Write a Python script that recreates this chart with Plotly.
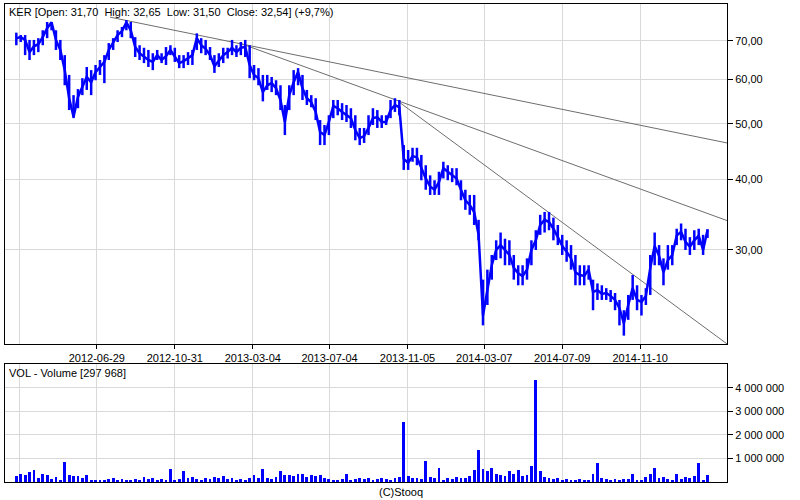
import pandas as pd
import plotly.graph_objects as go

# Weekly closing prices (PLN)
close = [
    70.8, 71.1, 70.3, 66.9, 68.5, 69.1, 71.1, 73.7, 75.5, 70.3,
    67.5, 62.2, 55.5, 51.5, 55.8, 58.3, 60.5, 59.2, 61.7, 63.0,
    64.3, 67.5, 69.7, 71.7, 72.8, 75.5, 73.1, 68.3, 66.6, 65.6,
    64.8, 64.3, 66.1, 64.8, 65.8, 67.5, 65.8, 64.0, 64.5, 65.2,
    66.1, 70.8, 68.8, 67.8, 66.1, 63.2, 64.8, 66.1, 66.9, 68.1,
    66.9, 68.1, 68.3, 63.5, 61.0, 60.2, 56.9, 58.5, 59.0, 57.8,
    55.1, 50.4, 56.2, 59.2, 61.7, 57.8, 55.5, 54.6, 52.5, 48.4,
    47.8, 50.4, 53.8, 53.3, 52.5, 51.8, 51.2, 48.8, 47.2, 47.6,
    49.2, 51.2, 51.4, 50.4, 50.4, 52.9, 54.0, 53.5, 43.4, 42.7,
    43.9, 43.7, 41.8, 40.1, 38.8, 38.3, 39.5, 41.8, 41.2, 40.6,
    40.1, 38.3, 36.7, 36.0, 35.0, 31.9, 23.0, 25.5, 28.2, 30.0,
    30.6, 30.0, 29.4, 27.9, 27.3, 27.0, 27.7, 30.0, 31.2, 33.2,
    33.9, 33.6, 32.7, 31.6, 30.5, 29.8, 29.0, 27.4, 27.1, 27.0,
    27.7, 25.3, 25.5, 25.1, 25.2, 24.9, 24.5, 23.7, 22.3, 24.0,
    25.7, 24.5, 24.3, 24.9, 27.9, 30.5, 29.3, 27.4, 28.8, 29.4,
    31.8, 32.3, 31.0, 30.4, 31.2, 31.8, 30.0, 32.54,
]

# Weekly highs (PLN)
high = [
    72.4, 71.7, 71.7, 70.3, 70.3, 70.8, 73.1, 75.6, 75.6, 73.1,
    70.3, 66.1, 61.0, 56.2, 57.6, 60.2, 63.0, 62.2, 63.5, 64.8,
    66.1, 69.4, 70.8, 73.1, 74.1, 76.2, 75.6, 71.1, 68.8, 68.1,
    67.5, 66.6, 67.5, 66.6, 68.3, 68.8, 68.1, 66.1, 66.1, 66.9,
    67.5, 72.2, 70.8, 70.3, 68.3, 66.1, 66.6, 68.1, 68.1, 70.3,
    68.8, 69.7, 70.3, 68.8, 63.5, 62.7, 61.0, 61.0, 60.5, 59.7,
    58.5, 54.0, 58.5, 62.2, 62.7, 61.0, 57.4, 56.2, 55.5, 50.8,
    49.8, 51.8, 55.1, 55.1, 54.4, 54.0, 53.3, 51.8, 49.2, 49.2,
    51.8, 53.3, 52.9, 51.8, 51.8, 55.1, 55.5, 55.1, 45.9, 45.0,
    45.4, 45.4, 44.1, 42.3, 40.6, 39.8, 41.2, 42.9, 42.3, 41.8,
    41.8, 39.8, 38.3, 37.5, 37.5, 33.9, 26.6, 27.7, 29.4, 31.2,
    32.2, 31.4, 31.2, 29.4, 28.2, 28.2, 29.0, 31.2, 32.5, 34.6,
    35.0, 35.0, 34.2, 33.2, 31.9, 31.2, 30.6, 29.4, 28.2, 28.2,
    28.2, 26.6, 26.2, 26.0, 25.7, 25.5, 25.2, 24.5, 23.5, 25.0,
    27.1, 26.0, 25.0, 25.7, 29.4, 32.2, 30.6, 29.0, 30.6, 30.6,
    32.7, 33.4, 32.7, 31.6, 32.5, 32.7, 31.9, 32.65,
]

# Weekly lows (PLN)
low = [
    68.8, 69.7, 66.1, 64.8, 66.1, 66.9, 68.8, 70.8, 73.1, 67.5,
    64.8, 58.5, 52.9, 51.2, 53.3, 56.2, 57.4, 56.2, 59.7, 61.0,
    59.0, 64.8, 67.5, 69.7, 71.1, 73.1, 70.8, 65.6, 64.8, 64.0,
    63.0, 62.2, 64.8, 64.0, 63.5, 66.1, 64.3, 62.7, 62.7, 63.5,
    63.5, 67.5, 66.6, 66.1, 64.8, 61.5, 63.0, 64.0, 65.2, 66.1,
    65.6, 66.1, 65.6, 60.2, 59.7, 58.5, 54.8, 57.4, 56.9, 56.2,
    52.9, 47.8, 52.9, 56.2, 58.5, 55.1, 54.0, 53.5, 50.8, 45.9,
    45.9, 47.8, 51.2, 51.8, 50.8, 50.4, 49.2, 46.8, 45.9, 46.3,
    47.8, 49.8, 49.2, 49.2, 49.8, 51.2, 52.5, 51.8, 41.5, 41.5,
    42.9, 42.3, 39.8, 38.3, 37.5, 37.5, 37.5, 40.1, 39.8, 39.5,
    39.0, 36.7, 35.3, 34.6, 33.2, 31.2, 22.1, 24.0, 26.6, 28.8,
    29.0, 28.2, 28.2, 26.6, 26.0, 26.0, 26.6, 28.2, 30.0, 31.9,
    32.2, 32.5, 31.2, 30.6, 29.4, 28.6, 27.7, 26.0, 26.0, 26.0,
    26.6, 23.5, 24.5, 24.5, 24.5, 24.3, 23.5, 22.1, 21.2, 22.6,
    24.5, 23.5, 23.0, 24.0, 25.0, 28.2, 28.2, 26.0, 27.7, 28.2,
    30.6, 31.2, 30.0, 29.4, 30.0, 30.6, 29.4, 31.5,
]

# Weekly volume (thousands of shares)
volume_k = [
    250, 350, 300, 420, 500, 150, 340, 300, 120, 200,
    100, 830, 300, 250, 260, 150, 280, 100, 80, 90,
    60, 120, 150, 90, 130, 80, 70, 120, 90, 200,
    130, 150, 90, 120, 80, 560, 80, 110, 480, 150,
    200, 120, 80, 150, 110, 220, 150, 260, 120, 160,
    100, 120, 90, 180, 300, 150, 560, 150, 130, 220,
    470, 280, 300, 250, 330, 350, 200, 280, 250, 300,
    150, 120, 100, 80, 120, 330, 90, 130, 150, 120,
    160, 100, 140, 180, 120, 90, 150, 200, 2550, 250,
    180, 150, 130, 900, 200, 180, 600, 100, 150, 120,
    200, 160, 150, 250, 500, 1350, 550, 450, 600, 350,
    300, 250, 450, 350, 500, 250, 300, 700, 4350, 450,
    200, 150, 120, 160, 100, 140, 100, 90, 120, 80,
    100, 350, 800, 150, 120, 100, 130, 90, 120, 140,
    350, 100, 90, 200, 350, 600, 150, 200, 120, 100,
    350, 120, 200, 150, 250, 800, 100, 300,
]

start_date = "2012-02-22"
price_dates = pd.date_range(start_date, periods=len(close), freq="7D")
vol_dates = pd.date_range(start_date, periods=len(volume_k), freq="7D")
volume = [v * 1000 for v in volume_k]
err_up = [h - c for h, c in zip(high, close)]
err_dn = [c - l for c, l in zip(close, low)]

# Trend lines: (start date, start price, end date, end price)
trend_lines = [
    ("2012-07-20", 77.1, "2015-03-28", 46.3),
    ("2013-02-11", 69.4, "2015-03-28", 33.8),
    ("2013-10-24", 54.5, "2015-03-28", 20.5),
]

unlabeled_grid_dates = ["2012-02-27"]
date_ticks = ["2012-06-29", "2012-10-31", "2013-03-04", "2013-07-04",
              "2013-11-05", "2014-03-07", "2014-07-09", "2014-11-10"]
date_labels = ["2012-06-29", "2012-10-31", "2013-03-04", "2013-07-04",
               "2013-11-05", "2014-03-07", "2014-07-09", "2014-11-10"]
price_ticks = [30, 40, 50, 60, 70]
price_labels = ["30,00", "40,00", "50,00", "60,00", "70,00"]
vol_ticks = [1_000_000, 2_000_000, 3_000_000, 4_000_000]
vol_labels = ["1 000 000", "2 000 000", "3 000 000", "4 000 000"]

title_text = "KER [Open: 31,70 \u00a0High: 32,65 \u00a0Low: 31,50 \u00a0Close: 32,54] (+9,7%)"
vol_text = "VOL - Volume [297 968]"

FONT = "Liberation Sans, Arial, sans-serif"
GRID = "#d9d9d9"
BLUE = "#0000ff"

fig = go.Figure()

for (d0, p0, d1, p1) in trend_lines:
    fig.add_trace(go.Scatter(x=[d0, d1], y=[p0, p1], mode="lines",
                             line=dict(color="#6e6e6e", width=1),
                             xaxis="x", yaxis="y", hoverinfo="skip"))

fig.add_trace(go.Scatter(x=price_dates, y=close, mode="lines",
                         line=dict(color=BLUE, width=2.5),
                         error_y=dict(type="data", symmetric=False, array=err_up,
                                      arrayminus=err_dn, width=0, thickness=2.5,
                                      color=BLUE),
                         xaxis="x", yaxis="y"))

fig.add_trace(go.Bar(x=vol_dates, y=volume, marker=dict(color=BLUE, line=dict(width=0)),
                     width=4.5 * 86400000, xaxis="x2", yaxis="y2"))

W, H = 800, 500
xdom = [5 / W, 727 / W]
axis_font = dict(family=FONT, size=11, color="black")
minor_grid = dict(tickvals=unlabeled_grid_dates, showgrid=True, gridcolor=GRID,
                  gridwidth=1, ticks="")

fig.update_layout(
    width=W, height=H,
    margin=dict(l=0, r=0, t=0, b=0),
    paper_bgcolor="white", plot_bgcolor="white",
    showlegend=False, bargap=0,
    xaxis=dict(domain=xdom, type="date", range=["2012-02-04", "2015-03-28"],
               tickmode="array", tickvals=date_ticks, ticktext=date_labels,
               showgrid=True, gridcolor=GRID, gridwidth=1, minor=minor_grid,
               showline=True, linecolor="black", linewidth=1, mirror=True,
               ticks="outside", ticklen=4, tickcolor="black",
               tickfont=axis_font, anchor="y", zeroline=False),
    yaxis=dict(domain=[1 - 344 / H, 1 - 4 / H], type="log", range=[1.3116, 1.9102],
               side="right", tickmode="array", tickvals=price_ticks, ticktext=price_labels,
               showgrid=True, gridcolor=GRID, gridwidth=1,
               showline=True, linecolor="black", linewidth=1, mirror=True,
               ticks="outside", ticklen=5, tickcolor="black",
               tickfont=axis_font, anchor="x", zeroline=False),
    xaxis2=dict(domain=xdom, type="date", matches="x",
                tickmode="array", tickvals=date_ticks, showticklabels=False,
                showgrid=True, gridcolor=GRID, gridwidth=1, minor=minor_grid,
                showline=True, linecolor="black", linewidth=1, mirror=True,
                ticks="", anchor="y2", zeroline=False),
    yaxis2=dict(domain=[1 - 482 / H, 1 - 364 / H], range=[0, 5_020_000],
                side="right", tickmode="array", tickvals=vol_ticks, ticktext=vol_labels,
                showgrid=True, gridcolor=GRID, gridwidth=1,
                showline=True, linecolor="black", linewidth=1, mirror=True,
                ticks="outside", ticklen=5, tickcolor="black",
                tickfont=axis_font, anchor="x2", zeroline=False),
    annotations=[
        dict(text=title_text, xref="paper", yref="paper", x=7 / W, y=1 - 12 / H,
             xanchor="left", yanchor="middle", showarrow=False,
             font=dict(family=FONT, size=11, color="black")),
        dict(text=vol_text, xref="paper", yref="paper", x=7 / W, y=1 - 373 / H,
             xanchor="left", yanchor="middle", showarrow=False,
             font=dict(family=FONT, size=11, color="black")),
        dict(text="(C)Stooq", xref="paper", yref="paper", x=401 / W, y=1 - 492 / H,
             xanchor="center", yanchor="middle", showarrow=False,
             font=dict(family=FONT, size=11, color="black")),
    ],
)

fig.write_html("out.html")
